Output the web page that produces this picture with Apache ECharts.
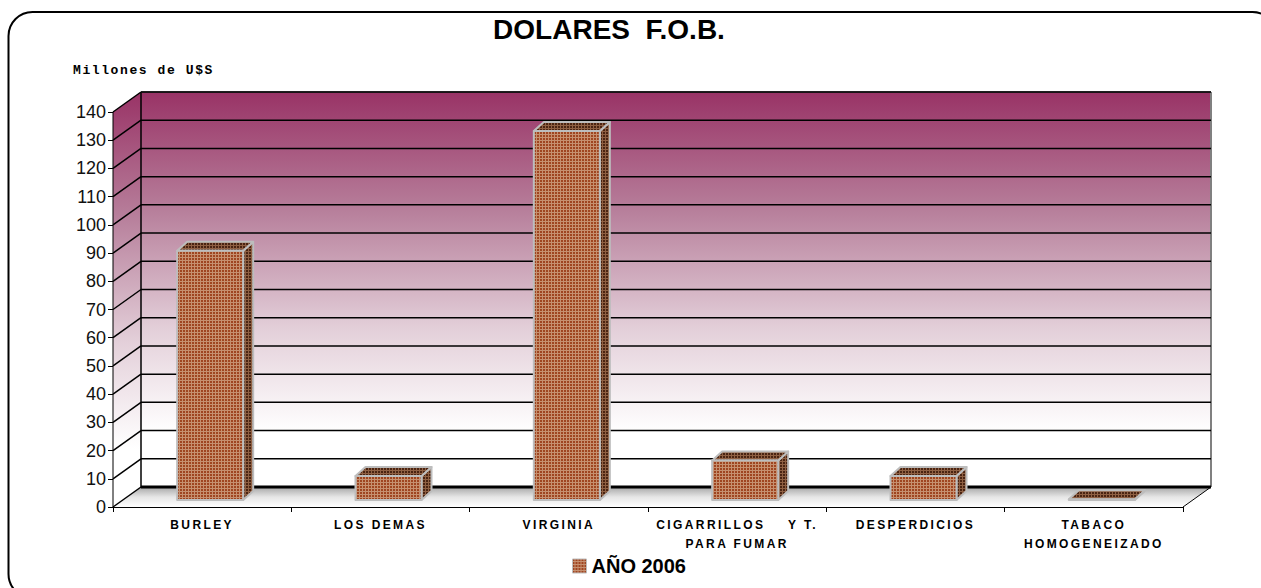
<!DOCTYPE html>
<html><head><meta charset="utf-8">
<style>
html,body{margin:0;padding:0;background:#fff}
#c{width:1261px;height:588px}
text[style*="12px"]{letter-spacing:2.4px}
text[style*="Liberation Mono"]{letter-spacing:1.6px}
</style>
<script src="https://cdn.jsdelivr.net/npm/echarts@6/dist/echarts.min.js"></script>
</head><body><div id="c"></div>
<script>
const categories = ['BURLEY','LOS DEMAS','VIRGINIA','CIGARRILLOS    Y T.\nPARA FUMAR','DESPERDICIOS','TABACO\nHOMOGENEIZADO'];
const values = [88.3, 8.5, 130.8, 14, 8.5, 0.3];
const yTicks = [0,10,20,30,40,50,60,70,80,90,100,110,120,130,140];
const seriesName = 'AÑO 2006';
const titleText = 'DOLARES  F.O.B.';
const unitText = 'Millones de U$S';

const DX = 28, DY = 20;          // plot depth
const BX = 8, BY = 7;            // bar front offset
const SX = 10, SY = 9;           // bar depth
const BAR_W = 66;

function pattern(base, line){
  const c = document.createElement('canvas'); c.width = 3; c.height = 3;
  const g = c.getContext('2d');
  g.fillStyle = base; g.fillRect(0,0,3,3);
  g.fillStyle = line; g.fillRect(2,0,1,3); g.fillRect(0,2,3,1);
  return {image:c, repeat:'repeat'};
}
const frontFill = pattern('#9f4520','#c6906f');
const sideFill = pattern('#4a2412','#8f6043');

const wallGrad = {type:'linear',x:0,y:0,x2:0,y2:1,colorStops:[
  {offset:0,color:'#993366'},{offset:0.3,color:'#b77f9b'},{offset:0.6,color:'#e3cfd9'},{offset:0.86,color:'#ffffff'},{offset:1,color:'#ffffff'}]};
const floorGrad = {type:'linear',x:0,y:0,x2:0,y2:1,colorStops:[
  {offset:0,color:'#a6a6a6'},{offset:0.5,color:'#e6e6e6'},{offset:1,color:'#ffffff'}]};

function renderWalls(params, api){
  const cs = params.coordSys;
  const x0 = cs.x, x1 = cs.x + cs.width;
  const y0 = api.coord([0,0])[1], yT = api.coord([0,140])[1];
  return {type:'group', silent:true, children:[
    {type:'polygon',shape:{points:[[x0,yT],[x0+DX,yT-DY],[x0+DX,y0-DY],[x0,y0]]},style:{fill:wallGrad}},
    {type:'rect',shape:{x:x0+DX,y:yT-DY,width:cs.width,height:y0-yT},style:{fill:wallGrad}},
    {type:'polygon',shape:{points:[[x0,y0],[x0+DX,y0-DY],[x1+DX,y0-DY],[x1,y0]]},style:{fill:floorGrad}},
    {type:'line',shape:{x1:x0+DX,y1:yT-DY,x2:x0+DX,y2:y0-DY},style:{stroke:'#000',lineWidth:1.5}},
    {type:'line',shape:{x1:x0,y1:yT,x2:x0,y2:y0},style:{stroke:'#000',lineWidth:1}},
    {type:'line',shape:{x1:x1+DX,y1:yT-DY,x2:x1+DX,y2:y0-DY},style:{stroke:'#808080',lineWidth:2}},
    {type:'line',shape:{x1:x0+DX,y1:yT-DY,x2:x1+DX,y2:yT-DY},style:{stroke:'#555',lineWidth:1.5}},
    {type:'line',shape:{x1:x1,y1:y0,x2:x1+DX,y2:y0-DY},style:{stroke:'#000',lineWidth:1}}
  ]};
}
function renderGrid(params, api){
  const cs = params.coordSys;
  const v = api.value(1), y = api.coord([0,v])[1];
  const x0 = cs.x, x1 = cs.x + cs.width;
  const lw = v === 0 ? 3 : 1.5;
  return {type:'group', silent:true, children:[
    {type:'line',shape:{x1:x0,y1:y,x2:x0+DX,y2:y-DY},style:{stroke:'#000',lineWidth:1.5}},
    {type:'line',shape:{x1:x0+DX,y1:y-DY,x2:x1+DX,y2:y-DY},style:{stroke:'#000',lineWidth:lw}}
  ]};
}
function renderBar(params, api){
  const p = api.coord([api.value(0), api.value(1)]);
  const base = api.coord([api.value(0), 0]);
  const l = p[0] + BX - BAR_W/2, r = l + BAR_W, t = p[1] - BY, b = base[1] - BY;
  const edge = {stroke:'#bdbdbd',lineWidth:2,lineJoin:'round'};
  return {type:'group', children:[
    {type:'polygon',shape:{points:[[r,t],[r+SX,t-SY],[r+SX,b-SY],[r,b]]},style:Object.assign({fill:sideFill},edge)},
    {type:'polygon',shape:{points:[[l,t],[l+SX,t-SY],[r+SX,t-SY],[r,t]]},style:Object.assign({fill:sideFill},edge)},
    {type:'rect',shape:{x:l,y:t,width:BAR_W,height:b-t},style:Object.assign({fill:frontFill},edge)}
  ]};
}

const chart = echarts.init(document.getElementById('c'), null, {renderer:'svg', width:1261, height:588});
chart.setOption({
  animation:false,
  backgroundColor:'#fff',
  title:[
    {text:titleText,left:604,top:10,textAlign:'center',textStyle:{fontFamily:'Liberation Sans',fontWeight:'bold',fontSize:28,color:'#000'}},
    {text:unitText,left:68,top:59,textStyle:{fontFamily:'Liberation Mono',fontWeight:'bold',fontSize:13,color:'#000'}}
  ],
  legend:{left:567,top:551,itemWidth:14,itemHeight:14,itemGap:7,selectedMode:false,
    textStyle:{fontFamily:'Liberation Sans',fontWeight:'bold',fontSize:20,color:'#000',padding:[0,0,0,0]},
    data:[{name:seriesName,icon:'rect',itemStyle:{color:frontFill,borderColor:'#bdbdbd',borderWidth:1}}]},
  grid:{left:113,top:112,width:1070,height:395,containLabel:false},
  xAxis:{type:'category',data:categories,boundaryGap:true,
    axisLine:{show:true,lineStyle:{color:'#000',width:1}},
    axisTick:{show:true,alignWithLabel:false,length:5,lineStyle:{color:'#000'},interval:0},
    axisLabel:{interval:0,margin:8,lineHeight:19,fontFamily:'Liberation Sans',fontWeight:'bold',fontSize:12,color:'#000'},
    splitLine:{show:false}},
  yAxis:{type:'value',min:0,max:140,interval:10,
    axisLine:{show:false},
    axisTick:{show:true,length:5,lineStyle:{color:'#000'}},
    axisLabel:{margin:7,fontFamily:'Liberation Sans',fontSize:18,color:'#111'},
    splitLine:{show:false}},
  series:[
    {type:'custom',name:'walls',z:1,silent:true,clip:false,renderItem:renderWalls,data:[[0,0]],encode:{x:0,y:1},tooltip:{show:false}},
    {type:'custom',name:'grid',z:2,silent:true,clip:false,renderItem:renderGrid,data:yTicks.map(v=>[0,v]),encode:{x:0,y:1}},
    {type:'custom',name:seriesName,z:3,clip:false,renderItem:renderBar,itemStyle:{color:frontFill},
      data:values.map((v,i)=>[i,v]),encode:{x:0,y:1}}
  ],
  graphic:[{type:'rect',z:-1,silent:true,shape:{x:8.5,y:12,width:1268,height:586,r:24},style:{fill:'none',stroke:'#000',lineWidth:2}}]
});
</script></body></html>
